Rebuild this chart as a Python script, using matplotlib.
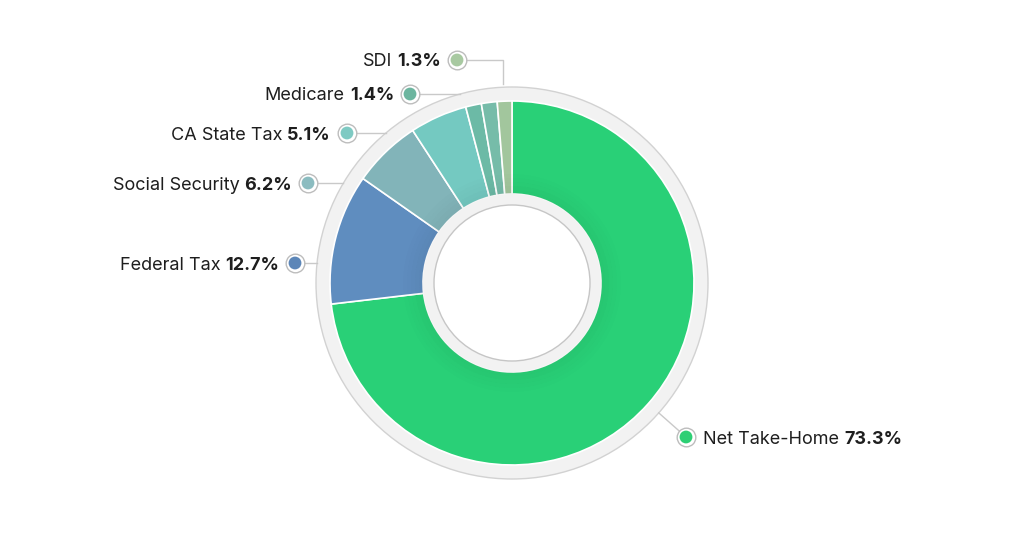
import matplotlib
matplotlib.use("Agg")
import matplotlib.pyplot as plt
from matplotlib.patches import Circle, Wedge
import numpy as np

# ---------------- data ----------------
slice_names = ["Net Take-Home", "Federal Tax", "Social Security", "CA State Tax",
               "Medicare", "", "SDI"]
slice_values = [73.3, 11.6, 6.1, 5.1, 1.4, 1.4, 1.3]
slice_colors = ["#29d077", "#5f8dbf", "#82b4b9", "#74c9c1", "#6cbaa6", "#76bca9", "#a2c69d"]

label_names = ["SDI", "Medicare", "CA State Tax", "Social Security", "Federal Tax", "Net Take-Home"]
label_pcts = ["1.3%", "1.4%", "5.1%", "6.2%", "12.7%", "73.3%"]
label_colors = ["#a8c9a1", "#6cb59f", "#7fcac3", "#8bbcc0", "#5c86b8", "#2dcf74"]

# ---------------- layout (pixels) ----------------
W, H = 1024, 559
fig = plt.figure(figsize=(W / 100, H / 100), dpi=100)
ax = fig.add_axes([0, 0, 1, 1])

def Y(py):
    return H - py

cx, cy = 512, Y(283)
R_gray = 196
R_out = 182
R_in = 89
R_hole = 78

# outer gray ring
ax.add_patch(Circle((cx, cy), R_gray, facecolor="#f2f2f2", edgecolor="#d2d2d2", lw=1.0, zorder=1))

ax.pie(slice_values, colors=slice_colors, startangle=90, counterclock=False,
       radius=R_out, center=(cx, cy),
       wedgeprops=dict(width=R_out - R_in, edgecolor="white", linewidth=1.2))
for p in ax.patches[1:]:
    p.set_zorder(2)

# inner shadow band
for k, a in enumerate([0.045, 0.035, 0.025, 0.015, 0.008]):
    r1 = R_in + k * 4
    ax.add_patch(Wedge((cx, cy), r1 + 4, 0, 360, width=4, facecolor="black",
                       alpha=a, edgecolor="none", zorder=3))

# inner gray ring and hole
ax.add_patch(Circle((cx, cy), R_in, facecolor="#f2f2f2", edgecolor="none", zorder=4))
ax.add_patch(Circle((cx, cy), R_hole, facecolor="white", edgecolor="#c6c6c6", lw=1.0, zorder=5))

ax.set_xlim(0, W)
ax.set_ylim(0, H)
ax.set_aspect("auto")
ax.axis("off")

renderer = fig.canvas.get_renderer()
line_c = "#c9c9c9"
txt_c = "#1e1e1e"
fs = 13
fam = ["Inter", "DejaVu Sans"]

def ring_x(py):
    dy = (H - py) - cy
    return cx - np.sqrt(R_gray ** 2 - dy ** 2)

def dot(x, py, color):
    ax.scatter([x], [Y(py)], s=180, facecolor="white", edgecolor="#bdbdbd", linewidth=1.0, zorder=8)
    ax.scatter([x], [Y(py)], s=85, facecolor=color, edgecolor="none", zorder=9)

def left_label(name, pct, x_end, py):
    t = ax.text(x_end, Y(py), pct, ha="right", va="center_baseline", fontsize=fs,
                fontweight="bold", color=txt_c, family=fam, zorder=10)
    bb = t.get_window_extent(renderer=renderer)
    ax.text(bb.x0 - 5, Y(py), name, ha="right", va="center_baseline", fontsize=fs,
            color=txt_c, family=fam, zorder=10)

left_layout = [(457, 60), (410, 94), (347, 133), (308, 183), (295, 263)]
for i, (dx, py) in enumerate(left_layout):
    if i == 0:
        ax.plot([dx, 503, 503], [Y(py), Y(py), Y(84)], color=line_c, lw=1.0, zorder=7)
    else:
        ax.plot([dx, ring_x(py)], [Y(py), Y(py)], color=line_c, lw=1.0, zorder=7)
    dot(dx, py, label_colors[i])
    left_label(label_names[i], label_pcts[i], dx - 16, py)

# Net take-home label (right)
ndx, ndy = 686, 437
ang = np.arctan2(Y(ndy) - cy, ndx - cx)
ax.plot([cx + R_gray * np.cos(ang), ndx], [cy + R_gray * np.sin(ang), Y(ndy)],
        color=line_c, lw=1.0, zorder=7)
dot(ndx, ndy, label_colors[5])
t = ax.text(703, Y(ndy), label_names[5], ha="left", va="center_baseline", fontsize=fs,
            color=txt_c, family=fam, zorder=10)
bb = t.get_window_extent(renderer=renderer)
ax.text(bb.x1 + 5, Y(ndy), label_pcts[5], ha="left", va="center_baseline", fontsize=fs,
        fontweight="bold", color=txt_c, family=fam, zorder=10)

fig.savefig("out.png", dpi=100, facecolor="white")
